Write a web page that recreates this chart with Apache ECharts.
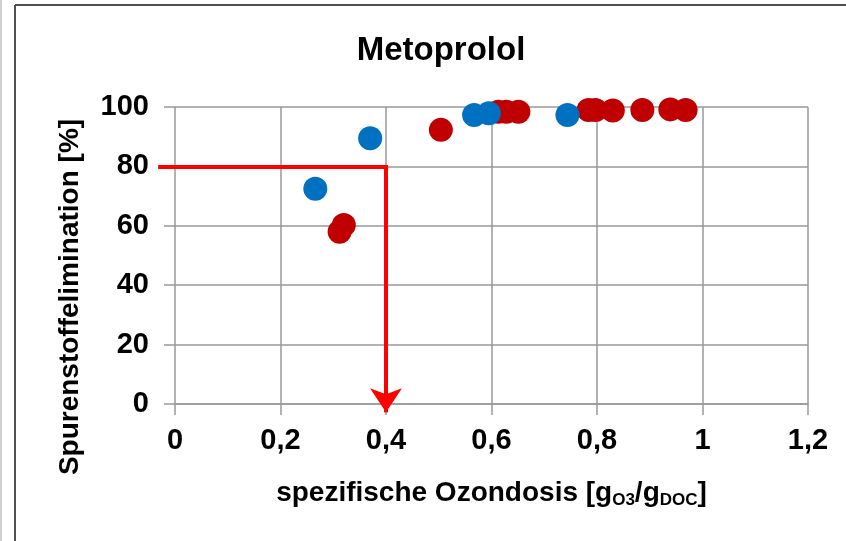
<!DOCTYPE html>
<html><head><meta charset="utf-8">
<script src="https://cdn.jsdelivr.net/npm/echarts@6/dist/echarts.min.js"></script>
<style>html,body{margin:0;padding:0;background:#fff}#c{width:846px;height:541px}</style>
</head><body><div id="c"></div>
<script>
const titleText = 'Metoprolol';
const yAxisTitle = 'Spurenstoffelimination [%]';
const xTicks = [0, 0.2, 0.4, 0.6, 0.8, 1, 1.2];
const yTicks = [0, 20, 40, 60, 80, 100];
const blueX = [0.266, 0.370, 0.567, 0.595, 0.744];
const blueY = [72.5, 89.5, 97.3, 97.9, 97.3];
const redX = [0.312, 0.320, 0.504, 0.613, 0.628, 0.651, 0.784, 0.797, 0.830, 0.886, 0.939, 0.968];
const redY = [58.0, 60.3, 92.3, 98.4, 98.4, 98.4, 99.0, 99.0, 98.8, 99.0, 99.2, 99.0];
const arrowStartX = -0.032;
const arrowX = 0.4;
const arrowY = 80;
const arrowEndY = -2.8;

const FONT = '"Liberation Sans", Arial, sans-serif';
const chart = echarts.init(document.getElementById('c'), null, {renderer: 'canvas'});
const gridColor = '#999999';
chart.setOption({
  animation: false,
  backgroundColor: '#ffffff',
  title: {
    text: titleText, left: 436, top: 29, textAlign: 'center',
    textStyle: {fontFamily: FONT, fontWeight: 'bold', fontSize: 33, color: '#000'}
  },
  grid: {left: 175, right: 38, top: 107, bottom: 137, containLabel: false},
  xAxis: {
    type: 'value', min: xTicks[0], max: xTicks[xTicks.length - 1], interval: 0.2,
    name: '{s|spezifische Ozondosis [g}{sub|O3}{s|/g}{sub|DOC}{s|]}',
    nameLocation: 'middle', nameGap: 74,
    nameTextStyle: {
      fontFamily: FONT, fontWeight: 'bold', fontSize: 28, color: '#000',
      rich: {
        s: {fontFamily: FONT, fontWeight: 'bold', fontSize: 28, color: '#000'},
        sub: {fontFamily: FONT, fontWeight: 'bold', fontSize: 17, color: '#000', verticalAlign: 'bottom', padding: [14, 0, 0, 0]}
      }
    },
    axisLine: {show: true, lineStyle: {color: gridColor, width: 1.5}},
    axisTick: {show: true, length: 11, lineStyle: {color: gridColor, width: 1.5}},
    splitLine: {show: true, lineStyle: {color: gridColor, width: 1.5}},
    axisLabel: {
      margin: 22, fontFamily: FONT, fontWeight: 'bold', fontSize: 29, color: '#000',
      formatter: v => String(Math.round(v * 10) / 10).replace('.', ',')
    }
  },
  yAxis: {
    type: 'value', min: yTicks[0], max: yTicks[yTicks.length - 1], interval: 20,
    axisLine: {show: false},
    axisTick: {show: true, length: 11, lineStyle: {color: gridColor, width: 1.5}},
    splitLine: {show: true, lineStyle: {color: gridColor, width: 1.5}},
    axisLabel: {margin: 26, fontFamily: FONT, fontWeight: 'bold', fontSize: 29, color: '#000'}
  },
  series: [
    {
      type: 'lines', coordinateSystem: 'cartesian2d', clip: false,
      silent: true, z: 1,
      symbol: ['none', 'none'],
      lineStyle: {color: '#ff0000', width: 4, opacity: 1},
      data: [{coords: [[arrowStartX, arrowY], [arrowX + 0.004, arrowY]]}]
    },
    {
      type: 'lines', coordinateSystem: 'cartesian2d', clip: false,
      silent: true, z: 1,
      symbol: ['none', 'arrow'], symbolSize: [24, 24],
      lineStyle: {color: '#ff0000', width: 4, opacity: 1},
      data: [{coords: [[arrowX, arrowY], [arrowX, arrowEndY]]}]
    },
    {
      type: 'scatter', symbol: 'circle', symbolSize: 24, z: 3,
      itemStyle: {color: '#c00000', opacity: 1},
      data: redX.map((x, i) => [x, redY[i]])
    },
    {
      type: 'scatter', symbol: 'circle', symbolSize: 24, z: 4,
      itemStyle: {color: '#0070c0', opacity: 1},
      data: blueX.map((x, i) => [x, blueY[i]])
    }
  ],
  graphic: [
    {type: 'line', shape: {x1: 15, y1: 5, x2: 15, y2: 541}, style: {stroke: '#505050', lineWidth: 2}},
    {type: 'line', shape: {x1: 15, y1: 5, x2: 846, y2: 5}, style: {stroke: '#505050', lineWidth: 2}},
    {type: 'line', shape: {x1: 1, y1: 0, x2: 1, y2: 541}, style: {stroke: '#a0a0a0', lineWidth: 1}},
    {type: 'text', x: 70, y: 297, rotation: Math.PI / 2,
      style: {text: yAxisTitle, fontFamily: FONT, fontWeight: 'bold', fontSize: 28, fill: '#000',
        textAlign: 'center', textVerticalAlign: 'middle'}}
  ]
});
</script></body></html>
